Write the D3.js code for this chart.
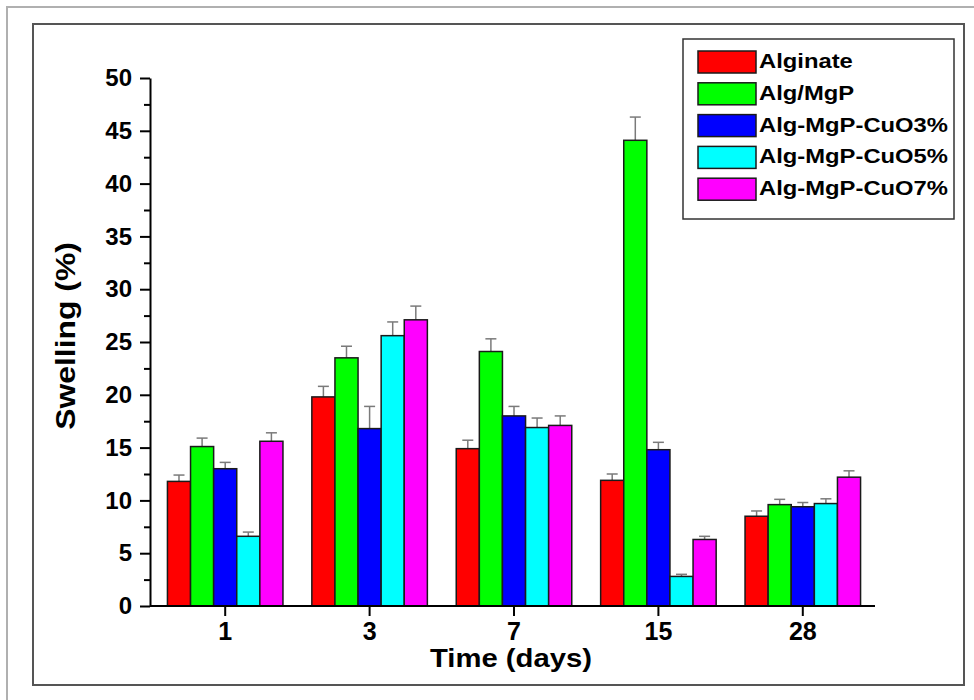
<!DOCTYPE html>
<html>
<head>
<meta charset="utf-8">
<script src="https://cdn.jsdelivr.net/npm/d3@7"></script>
<style>
  body { margin: 0; background: #fff; }
  text { font-family: "Liberation Sans", Arial, sans-serif; font-weight: bold; }
</style>
</head>
<body>
<div id="chart"></div>
<script>
// data
let days = ["1", "3", "7", "15", "28"];
let series = ["Alginate", "Alg/MgP", "Alg-MgP-CuO3%", "Alg-MgP-CuO5%", "Alg-MgP-CuO7%"];
let colors = ["#ff0000", "#00ff00", "#0000ff", "#00ffff", "#ff00ff"];
// one array per series, values at day 1, 3, 7, 15, 28
let alginate = [11.8, 19.8, 14.9, 11.9, 8.5];
let algMgp = [15.1, 23.5, 24.1, 44.1, 9.6];
let cuo3 = [13.0, 16.8, 18.0, 14.8, 9.4];
let cuo5 = [6.6, 25.6, 16.9, 2.8, 9.7];
let cuo7 = [15.6, 27.1, 17.1, 6.3, 12.2];
// upper error (SD)
let alginateErr = [0.6, 1.0, 0.8, 0.6, 0.5];
let algMgpErr = [0.8, 1.1, 1.2, 2.2, 0.5];
let cuo3Err = [0.6, 2.1, 0.9, 0.7, 0.4];
let cuo5Err = [0.4, 1.3, 0.9, 0.2, 0.45];
let cuo7Err = [0.8, 1.3, 0.9, 0.3, 0.6];
let yTicks = [0, 5, 10, 15, 20, 25, 30, 35, 40, 45, 50];

let values = [alginate, algMgp, cuo3, cuo5, cuo7];
let errs = [alginateErr, algMgpErr, cuo3Err, cuo5Err, cuo7Err];

let width = 974, height = 700;
let svg = d3.select("#chart").append("svg")
    .attr("width", width)
    .attr("height", height);

// stretch text horizontally (the original figure has wide lettering)
function stretch(sel, k) {
    sel.each(function() {
        let len = this.getComputedTextLength();
        d3.select(this).attr("textLength", len * k).attr("lengthAdjust", "spacingAndGlyphs");
    });
}

// outer frames
svg.append("rect")
    .attr("x", 7).attr("y", 7).attr("width", width).attr("height", height)
    .attr("fill", "none").attr("stroke", "#b0b0b0").attr("stroke-width", 2);
svg.append("rect")
    .attr("x", 33).attr("y", 24).attr("width", 931).attr("height", 661)
    .attr("fill", "#fff").attr("stroke", "#555").attr("stroke-width", 2);

let x0 = 150, x1 = 875, yBottom = 606, yTop = 78;

let x = d3.scaleBand()
    .domain(days)
    .range([153, x1])
    .paddingInner(0.2)
    .paddingOuter(0.1);

let xs = d3.scaleBand()
    .domain(series)
    .range([0, x.bandwidth()]);

let y = d3.scaleLinear()
    .domain([0, 50])
    .range([yBottom, yTop]);

// bars
let rows = [];
days.forEach(function(d, i) {
    series.forEach(function(s, j) {
        rows.push({ day: d, s: s, j: j, v: values[j][i], e: errs[j][i] });
    });
});

let g = svg.append("g");

// error bars (upper only), drawn behind the bars
let eb = g.selectAll("g.err").data(rows).enter().append("g").attr("class", "err");
eb.append("line")
    .attr("x1", function(d) { return x(d.day) + xs(d.s) + xs.bandwidth() / 2; })
    .attr("x2", function(d) { return x(d.day) + xs(d.s) + xs.bandwidth() / 2; })
    .attr("y1", function(d) { return y(d.v); })
    .attr("y2", function(d) { return y(d.v + d.e); })
    .attr("stroke", "#7a7a7a").attr("stroke-width", 1.5);
eb.append("line")
    .attr("x1", function(d) { return x(d.day) + xs(d.s) + xs.bandwidth() / 2 - 5.5; })
    .attr("x2", function(d) { return x(d.day) + xs(d.s) + xs.bandwidth() / 2 + 5.5; })
    .attr("y1", function(d) { return y(d.v + d.e); })
    .attr("y2", function(d) { return y(d.v + d.e); })
    .attr("stroke", "#7a7a7a").attr("stroke-width", 1.5);

g.selectAll("rect.bar").data(rows).enter().append("rect")
    .attr("class", "bar")
    .attr("x", function(d) { return x(d.day) + xs(d.s); })
    .attr("y", function(d) { return y(d.v); })
    .attr("width", xs.bandwidth())
    .attr("height", function(d) { return y(0) - y(d.v); })
    .attr("fill", function(d) { return colors[d.j]; })
    .attr("stroke", "#1a1a1a")
    .attr("stroke-width", 1.5);

// y axis with minor ticks
let yMinor = svg.append("g")
    .attr("transform", `translate(${x0},0)`)
    .call(d3.axisLeft(y).tickValues(d3.range(2.5, 50, 5)).tickSize(6).tickFormat(""));
yMinor.select(".domain").remove();
yMinor.selectAll("line").attr("stroke", "#000").attr("stroke-width", 2);

let yAxis = svg.append("g")
    .attr("transform", `translate(${x0},0)`)
    .call(d3.axisLeft(y).tickValues(yTicks).tickSize(10).tickSizeOuter(0).tickPadding(8));
yAxis.select(".domain").attr("stroke", "#000").attr("stroke-width", 2);
yAxis.selectAll("line").attr("stroke", "#000").attr("stroke-width", 2);
yAxis.selectAll("text")
    .attr("fill", "#000")
    .style("font-size", "24px")
    .style("font-family", "'Liberation Sans', Arial, sans-serif")
    .style("font-weight", "bold");

// x axis
let xAxis = svg.append("g")
    .attr("transform", `translate(0,${yBottom})`)
    .call(d3.axisBottom(x).tickSize(10).tickSizeOuter(0).tickPadding(6));
xAxis.select(".domain").attr("d", `M${x0},0H${x1}`).attr("stroke", "#000").attr("stroke-width", 2);
xAxis.selectAll("line").attr("stroke", "#000").attr("stroke-width", 2);
xAxis.selectAll("text")
    .attr("fill", "#000")
    .style("font-size", "25px")
    .style("font-family", "'Liberation Sans', Arial, sans-serif")
    .style("font-weight", "bold");

// axis titles
svg.append("text")
    .attr("x", 511)
    .attr("y", 667)
    .attr("text-anchor", "middle")
    .style("font-size", "25px")
    .text("Time (days)")
    .call(stretch, 1.17);

svg.append("text")
    .attr("transform", "translate(75,336) rotate(-90)")
    .attr("text-anchor", "middle")
    .style("font-size", "27px")
    .text("Swelling (%)")
    .call(stretch, 1.18);

// legend
let legend = svg.append("g");
legend.append("rect")
    .attr("x", 683).attr("y", 39).attr("width", 271).attr("height", 180)
    .attr("fill", "#fff").attr("stroke", "#333").attr("stroke-width", 1.5);

let items = legend.selectAll("g.item").data(series).enter().append("g")
    .attr("class", "item")
    .attr("transform", function(d, i) { return `translate(698,${51 + i * 31.8})`; });
items.append("rect")
    .attr("width", 58).attr("height", 22)
    .attr("fill", function(d, i) { return colors[i]; })
    .attr("stroke", "#1a1a1a").attr("stroke-width", 1.5);
items.append("text")
    .attr("x", 61)
    .attr("y", 17)
    .style("font-size", "19.5px")
    .text(function(d) { return d; })
    .call(stretch, 1.22);
</script>
</body>
</html>
